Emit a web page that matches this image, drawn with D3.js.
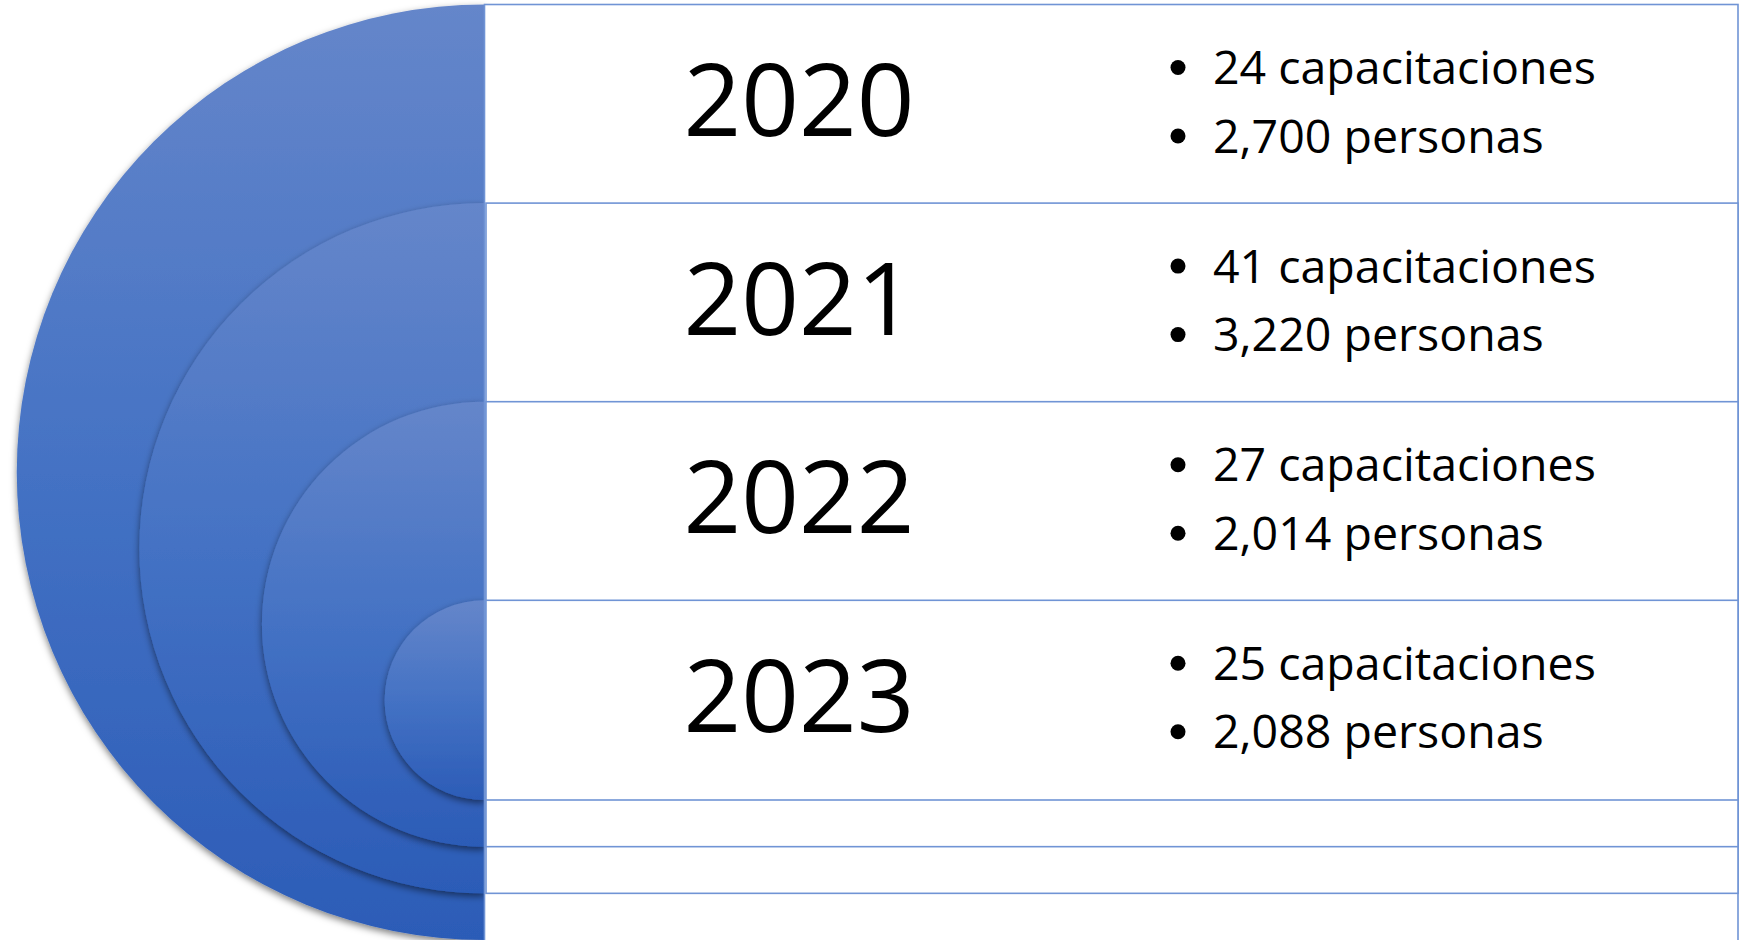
<!DOCTYPE html>
<html>
<head>
<meta charset="utf-8">
<script src="https://cdn.jsdelivr.net/npm/d3@7"></script>
<style>
  html, body { margin: 0; padding: 0; background: #ffffff; }
  svg { display: block; }
</style>
</head>
<body>
<svg id="chart" width="1747" height="940"></svg>
<script>
// ---- data ----
const years = ["2020", "2021", "2022", "2023"];
const capacitaciones = [24, 41, 27, 25];
const personas = [2700, 3220, 2014, 2088];
const labelCap = "capacitaciones";
const labelPer = "personas";

// ---- layout ----
const W = 1747, H = 940;
const svg = d3.select("#chart");
const fontFamily = "'Open Sans', 'Noto Sans', sans-serif";

const rowTop = 4.5, rowH = 198.6;
const yBand = d3.scaleBand().domain(years).range([rowTop, rowTop + rowH * years.length]).padding(0);
// bottom of each nested target (outer reaches the bottom of the canvas)
const yBottom = d3.scaleLinear().domain([0, years.length - 1]).range([940, 800]);
const xAxisLine = 484.5;      // straight edge of the half discs / left edge of the list
const xRight = 1738;
const xYear = 799;
const xBullet = 1178;
const xText = 1213;
const lineGap = 68.5;

const defs = svg.append("defs");
const grad = defs.append("linearGradient").attr("id", "blueGrad")
  .attr("x1", 0).attr("y1", 0).attr("x2", 0).attr("y2", 1);
grad.append("stop").attr("offset", "0%").attr("stop-color", "#6586CA");
grad.append("stop").attr("offset", "50%").attr("stop-color", "#4472C4");
grad.append("stop").attr("offset", "100%").attr("stop-color", "#2C5CB7");

const shadow = defs.append("filter").attr("id", "shadow")
  .attr("x", "-10%").attr("y", "-10%").attr("width", "130%").attr("height", "130%");
shadow.append("feDropShadow")
  .attr("dx", 0).attr("dy", 3).attr("stdDeviation", 3.5)
  .attr("flood-color", "#000").attr("flood-opacity", 0.5);

const rows = years.map((y, i) => {
  const top = yBand(y);
  const bottom = yBottom(i);
  return { year: y, i, top, bottom, cy: (top + bottom) / 2, r: (bottom - top) / 2,
           cap: capacitaciones[i], per: personas[i] };
});

const arc = d3.arc().innerRadius(0).startAngle(Math.PI).endAngle(2 * Math.PI);

// nested half discs
svg.append("g").selectAll("path").data(rows).join("path")
  .attr("transform", d => `translate(${xAxisLine},${d.cy})`)
  .attr("d", d => arc({ outerRadius: d.r }))
  .attr("fill", "url(#blueGrad)")
  .attr("filter", "url(#shadow)");

// list boxes (outer box runs past the bottom edge)
svg.append("g").selectAll("rect").data(rows).join("rect")
  .attr("x", d => d.i === 0 ? xAxisLine : xAxisLine + 1.5)
  .attr("y", d => d.top)
  .attr("width", d => xRight - (d.i === 0 ? xAxisLine : xAxisLine + 1.5))
  .attr("height", d => d.bottom - d.top + (d.i === 0 ? 6 : 0))
  .attr("fill", "#ffffff")
  .attr("stroke", "#7094D5")
  .attr("stroke-width", 1.6);

// year labels
svg.append("g").selectAll("text").data(rows).join("text")
  .attr("x", xYear)
  .attr("y", d => d.top + 131.7)
  .attr("text-anchor", "middle")
  .attr("font-family", fontFamily)
  .attr("font-size", 101)
  .attr("fill", "#000")
  .text(d => d.year);

const fmt = d3.format(",");
const lines = [];
rows.forEach(d => {
  lines.push({ top: d.top, k: 0, text: `${d.cap} ${labelCap}` });
  lines.push({ top: d.top, k: 1, text: `${fmt(d.per)} ${labelPer}` });
});

const gl = svg.append("g");
gl.selectAll("circle").data(lines).join("circle")
  .attr("cx", xBullet)
  .attr("cy", d => d.top + 63 + d.k * lineGap)
  .attr("r", 7.5)
  .attr("fill", "#000");

gl.selectAll("text").data(lines).join("text")
  .attr("x", xText)
  .attr("y", d => d.top + 79.5 + d.k * lineGap)
  .attr("font-family", fontFamily)
  .attr("font-size", 46.5)
  .attr("fill", "#000")
  .text(d => d.text);
</script>
</body>
</html>
